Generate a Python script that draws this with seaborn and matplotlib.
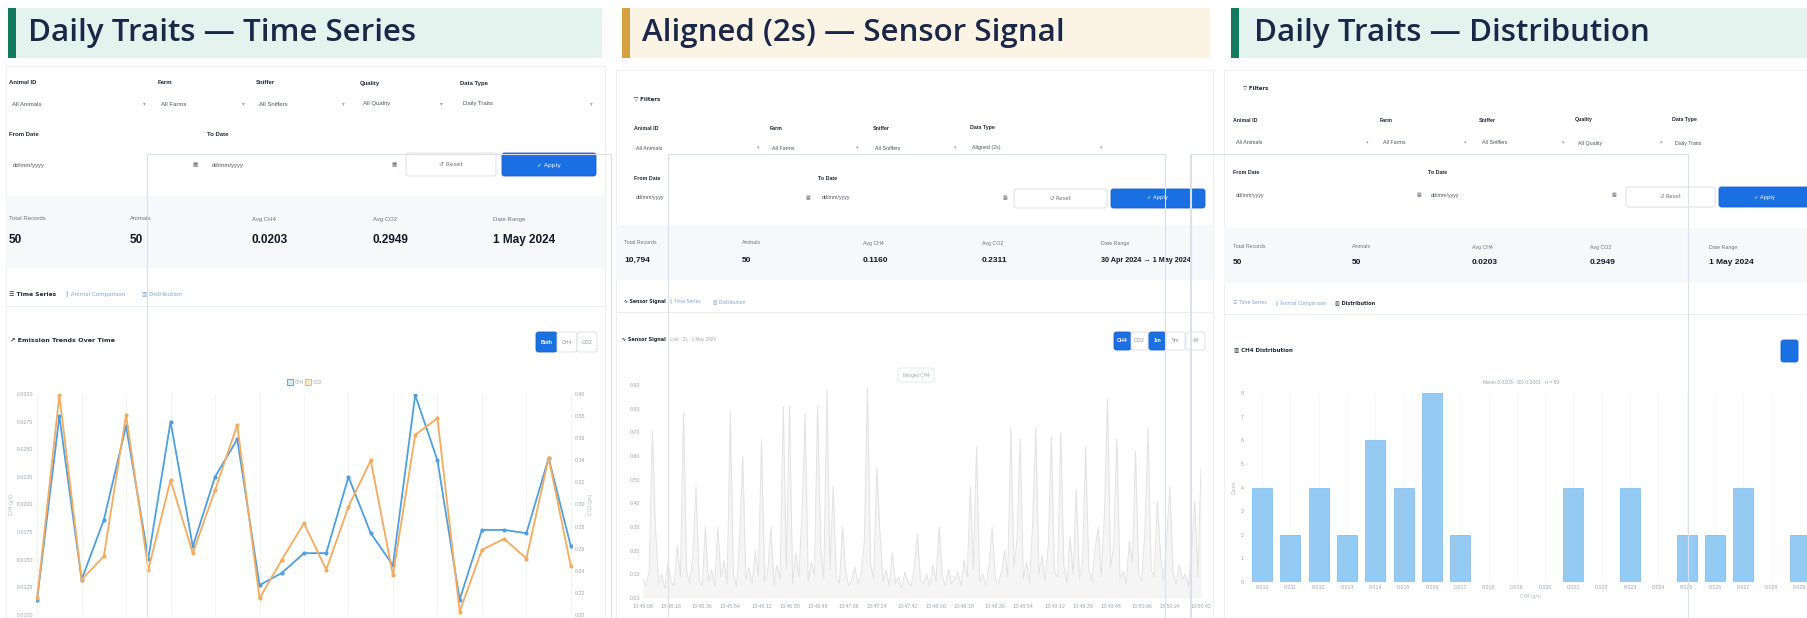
import matplotlib
matplotlib.use("Agg")
import matplotlib.pyplot as plt
from matplotlib.patches import Rectangle, FancyBboxPatch
import seaborn as sns
import pandas as pd

# ------------------------------------------------------------------ data
panel_titles = ["Daily Traits \u2014 Time Series",
                "Aligned (2s) \u2014 Sensor Signal",
                "Daily Traits \u2014 Distribution"]

# Panel 1: emission trends (CH4 left axis, CO2 right axis)
ts_index = list(range(1, 26))
ch4_values = [0.0114, 0.0280, 0.0132, 0.0186, 0.0271, 0.0151, 0.0275, 0.0162,
              0.0225, 0.0259, 0.0127, 0.0138, 0.0156, 0.0156, 0.0225, 0.0174,
              0.0145, 0.0299, 0.0240, 0.0114, 0.0177, 0.0177, 0.0174, 0.0242,
              0.0162]
co2_values = [0.215, 0.399, 0.232, 0.253, 0.381, 0.241, 0.322, 0.256,
              0.313, 0.372, 0.215, 0.250, 0.283, 0.241, 0.298, 0.340,
              0.236, 0.363, 0.378, 0.203, 0.259, 0.269, 0.251, 0.342,
              0.244]
ch4_ticks = [0.0100, 0.0125, 0.0150, 0.0175, 0.0200, 0.0225, 0.0250, 0.0275, 0.0300]
co2_ticks = [0.20, 0.22, 0.24, 0.26, 0.28, 0.30, 0.32, 0.34, 0.36, 0.38, 0.40]

# Panel 2: aligned 2 s sensor signal
sensor_values = [
    0.08, 0.05, 0.12, 0.71, 0.30, 0.06, 0.10, 0.04, 0.15, 0.07, 0.05, 0.22, 0.09, 0.78, 0.11, 0.06, 0.18, 0.47, 0.08, 0.05,
    0.30, 0.07, 0.12, 0.05, 0.30, 0.09, 0.16, 0.06, 0.79, 0.10, 0.05, 0.25, 0.60, 0.08, 0.13, 0.06, 0.20, 0.09, 0.67, 0.07,
    0.11, 0.30, 0.05, 0.14, 0.08, 0.81, 0.12, 0.81, 0.06, 0.19, 0.09, 0.35, 0.78, 0.07, 0.15, 0.10, 0.81, 0.22, 0.08, 0.88,
    0.12, 0.47, 0.09, 0.06, 0.30, 0.11, 0.05, 0.08, 0.13, 0.06, 0.10, 0.24, 0.89, 0.14, 0.08, 0.55, 0.28, 0.07, 0.12, 0.05,
    0.19, 0.06, 0.09, 0.04, 0.11, 0.07, 0.05, 0.13, 0.27, 0.08, 0.06, 0.10, 0.05, 0.14, 0.07, 0.30, 0.09, 0.05, 0.12, 0.06,
    0.08, 0.11, 0.05, 0.16, 0.09, 0.47, 0.12, 0.64, 0.07, 0.10, 0.05, 0.14, 0.30, 0.08, 0.06, 0.11, 0.20, 0.09, 0.72, 0.13,
    0.25, 0.67, 0.08, 0.15, 0.06, 0.32, 0.72, 0.10, 0.18, 0.07, 0.22, 0.68, 0.11, 0.09, 0.70, 0.14, 0.06, 0.26, 0.10, 0.46,
    0.08, 0.15, 0.64, 0.12, 0.07, 0.20, 0.30, 0.09, 0.35, 0.84, 0.13, 0.22, 0.67, 0.08, 0.11, 0.06, 0.24, 0.15, 0.62, 0.10,
    0.07, 0.28, 0.72, 0.12, 0.09, 0.41, 0.18, 0.07, 0.25, 0.47, 0.11, 0.06, 0.14, 0.08, 0.10, 0.05, 0.20, 0.41, 0.09, 0.55]
sensor_yticks = [0.0, 0.1, 0.2, 0.3, 0.4, 0.5, 0.6, 0.7, 0.8, 0.9]
sensor_time_labels = ["13:45:00", "13:45:18", "13:45:36", "13:45:54", "13:46:12",
                      "13:46:30", "13:46:48", "13:47:06", "13:47:24", "13:47:42",
                      "13:48:00", "13:48:18", "13:48:36", "13:48:54", "13:49:12",
                      "13:49:30", "13:49:48", "13:50:06", "13:50:24", "13:50:42"]
sensor_tick_pos = [0, 9, 19, 28, 38, 47, 56, 66, 75, 85, 94, 103, 113, 122, 132, 141, 150, 160, 169, 179]

# Panel 3: CH4 distribution histogram
dist_bins = ["0.010", "0.011", "0.012", "0.013", "0.014", "0.015", "0.016", "0.017",
             "0.018", "0.019", "0.020", "0.021", "0.022", "0.023", "0.024", "0.025",
             "0.026", "0.027", "0.028", "0.029"]
dist_counts = [4, 2, 4, 2, 6, 4, 8, 2, 0, 0, 0, 4, 0, 4, 0, 2, 2, 4, 0, 2]
dist_yticks = [0, 1, 2, 3, 4, 5, 6, 7, 8]

filter_labels_5 = ["Animal ID", "Farm", "Sniffer", "Quality", "Data Type"]
filter_values_daily = ["All Animals", "All Farms", "All Sniffers", "All Quality", "Daily Traits"]
filter_labels_4 = ["Animal ID", "Farm", "Sniffer", "Data Type"]
filter_values_aligned = ["All Animals", "All Farms", "All Sniffers", "Aligned (2s)"]
stat_labels = ["Total Records", "Animals", "Avg CH4", "Avg CO2", "Date Range"]
stat_values_daily = ["50", "50", "0.0203", "0.2949", "1 May 2024"]
stat_values_aligned = ["10,794", "50", "0.1160", "0.2311", "30 Apr 2024 \u2192 1 May 2024"]

# ------------------------------------------------------------------ style
sns.set_theme(style="white")
plt.rcParams["font.family"] = ["Liberation Sans Narrow", "Liberation Sans", "DejaVu Sans"]
plt.rcParams["axes.unicode_minus"] = False

W, H = 1807, 618
fig = plt.figure(figsize=(W / 100, H / 100), dpi=100)
fig.patch.set_facecolor("white")

def axpos(l, t, r, b):
    return [l / W, 1 - b / H, (r - l) / W, (b - t) / H]

bg = fig.add_axes([0, 0, 1, 1], zorder=0)
bg.set_xlim(0, W)
bg.set_ylim(H, 0)
bg.axis("off")

NARROW = ["Liberation Sans Narrow", "Liberation Sans", "DejaVu Sans"]
SYM = ["DejaVu Sans"]
LBL = "#6b7280"
DARK = "#1f2937"
BLUE = "#1a6fe3"
TABC = "#7aa6d8"

def txt(x, y, s, size=4.5, color=LBL, weight="normal", ha="left", fam=None, **kw):
    bg.text(x, y, s, fontsize=size, color=color, fontweight=weight, ha=ha,
            va="center", family=fam or NARROW, **kw)

def box(l, t, r, b, fc, ec="none", lw=0.6, rs=2.5, z=1):
    bg.add_patch(FancyBboxPatch((l, t), r - l, b - t,
                                boxstyle=f"round,pad=0,rounding_size={rs}",
                                fc=fc, ec=ec, lw=lw, zorder=z))

def button(l, t, r, b, label, active):
    if active:
        box(l, t, r, b, BLUE, "#1660c8")
        txt((l + r) / 2, (t + b) / 2, label, 3.8, "white", "bold", "center")
    else:
        box(l, t, r, b, "white", "#d8dce3")
        txt((l + r) / 2, (t + b) / 2, label, 3.8, "#8b93a0", "normal", "center")

# ------------------------------------------------------------------ header bands
bands = [(8, 602, "#e5f3ee", "#127a5d", 28),
         (622, 1210, "#fbf4e4", "#d2a33f", 642),
         (1231, 1807, "#e5f3ee", "#127a5d", 1254)]
for (l, r, fc, ac, tx), title in zip(bands, panel_titles):
    bg.add_patch(Rectangle((l, 8), r - l, 50, fc=fc, ec="none", zorder=1))
    bg.add_patch(Rectangle((l, 8), 8, 50, fc=ac, ec="none", zorder=2))
    bg.text(tx, 33, title, fontsize=22.5, color="#1b2748", fontweight="semibold",
            family=["Open Sans", "DejaVu Sans"], va="center", ha="left", zorder=3)

# ------------------------------------------------------------------ screenshot cards
for l, t, r in [(6, 66, 605), (616, 70, 1213), (1224, 70, 1807)]:
    bg.add_patch(Rectangle((l, t), r - l, H - t, fc="white", ec="#eef0f3", lw=0.8, zorder=0.5))

# ---------- Panel 1 UI
xs = [9, 158, 256, 360, 460]
for x, lab, val in zip(xs, filter_labels_5, filter_values_daily):
    txt(x, 83, lab, 4.3, DARK, "bold")
    txt(x + 3, 104, val, 4.3, "#4b5563")
for x in [143, 242, 342, 440, 590]:
    txt(x, 104, "\u25be", 4, "#9ca3af", fam=SYM)
txt(9, 134, "From Date", 4.3, DARK, "bold")
txt(207, 134, "To Date", 4.3, DARK, "bold")
txt(13, 165, "dd/mm/yyyy", 4.3, "#4b5563")
txt(212, 165, "dd/mm/yyyy", 4.3, "#4b5563")
for x in [193, 392]:
    txt(x, 165, "\u25a6", 4, "#6b7280", fam=SYM)
box(406, 153, 496, 176, "white", "#d6dae1")
txt(451, 165, "\u21ba Reset", 4.3, "#6b7280", ha="center", fam=SYM)
box(502, 153, 596, 176, BLUE, "#1660c8")
txt(549, 165, "\u2713 Apply", 4.3, "white", ha="center", fam=SYM)
bg.add_patch(Rectangle((6, 196), 599, 72, fc="#f7f8fa", ec="none", zorder=0.6))
for x, lab, val in zip([9, 130, 252, 373, 493], stat_labels, stat_values_daily):
    txt(x, 219, lab, 4.3, "#6b7280")
    txt(x, 240, val, 8.5, "#111827", "bold")
txt(9, 294, "\u2630 Time Series", 4.3, DARK, "bold", fam=SYM)
txt(66, 294, "\u2225 Animal Comparison", 4.1, TABC, fam=SYM)
txt(142, 294, "\u25a5 Distribution", 4.1, TABC, fam=SYM)
bg.plot([6, 605], [306, 306], color="#eceef2", lw=0.8, zorder=0.7)
txt(10, 341, "\u2197 Emission Trends Over Time", 4.6, DARK, "bold", fam=SYM)
button(536, 332, 557, 352, "Both", True)
button(557, 332, 577, 352, "CH4", False)
button(577, 332, 597, 352, "CO2", False)

# ---------- Panel 2 UI
txt(634, 99, "\u25bd Filters", 4.0, DARK, "bold", fam=SYM)
for x, lab, val in zip([634, 770, 873, 970], filter_labels_4, filter_values_aligned):
    txt(x, 128, lab, 3.8, DARK, "bold")
    txt(x + 2, 148, val, 3.8, "#4b5563")
for x in [757, 856, 954, 1100]:
    txt(x, 148, "\u25be", 3.5, "#9ca3af", fam=SYM)
txt(634, 178, "From Date", 3.8, DARK, "bold")
txt(818, 178, "To Date", 3.8, DARK, "bold")
txt(636, 198, "dd/mm/yyyy", 3.8, "#4b5563")
txt(822, 198, "dd/mm/yyyy", 3.8, "#4b5563")
for x in [806, 1003]:
    txt(x, 198, "\u25a6", 3.5, "#6b7280", fam=SYM)
box(1014, 189, 1107, 208, "white", "#d6dae1")
txt(1060, 198, "\u21ba Reset", 3.8, "#6b7280", ha="center", fam=SYM)
box(1111, 189, 1205, 208, BLUE, "#1660c8")
txt(1158, 198, "\u2713 Apply", 3.8, "white", ha="center", fam=SYM)
bg.add_patch(Rectangle((616, 225), 597, 55, fc="#f7f8fa", ec="none", zorder=0.6))
for x, lab, val in zip([624, 742, 863, 982, 1101], stat_labels, stat_values_aligned):
    txt(x, 243, lab, 3.8, "#6b7280")
    txt(x, 260, val, 6.0 if x < 1100 else 5.2, "#111827", "bold")
txt(624, 302, "\u223f Sensor Signal", 3.3, DARK, "bold", fam=SYM)
txt(670, 302, "\u2225 Time Series", 3.3, TABC, fam=SYM)
txt(713, 302, "\u25a5 Distribution", 3.3, TABC, fam=SYM)
bg.plot([616, 1213], [312, 312], color="#eceef2", lw=0.8, zorder=0.7)
txt(622, 340, "\u223f Sensor Signal", 3.5, DARK, "bold", fam=SYM)
txt(670, 340, "Live \u00b7 2s \u00b7 1 May 2024", 3.3, "#9ca3af")
button(1114, 332, 1131, 350, "CH4", True)
button(1131, 332, 1148, 350, "CO2", False)
button(1149, 332, 1166, 350, "1m", True)
button(1166, 332, 1185, 350, "5m", False)
button(1186, 332, 1205, 350, "All", False)
box(898, 368, 934, 382, "white", "#e2e5ea", rs=3)
txt(916, 375, "Merged CH4", 3.3, "#9ca3af", ha="center")

# ---------- Panel 3 UI
txt(1243, 88, "\u25bd Filters", 3.8, DARK, "bold", fam=SYM)
for x, lab, val in zip([1233, 1380, 1479, 1575, 1672], filter_labels_5, filter_values_daily):
    txt(x, 120, lab, 3.8, DARK, "bold")
    txt(x + 3, 143, val, 3.8, "#4b5563")
for x in [1366, 1464, 1562, 1660]:
    txt(x, 143, "\u25be", 3.5, "#9ca3af", fam=SYM)
txt(1233, 173, "From Date", 3.8, DARK, "bold")
txt(1428, 173, "To Date", 3.8, DARK, "bold")
txt(1236, 195, "dd/mm/yyyy", 3.8, "#4b5563")
txt(1431, 195, "dd/mm/yyyy", 3.8, "#4b5563")
for x in [1417, 1612]:
    txt(x, 195, "\u25a6", 3.5, "#6b7280", fam=SYM)
box(1626, 187, 1715, 207, "white", "#d6dae1")
txt(1670, 197, "\u21ba Reset", 3.8, "#6b7280", ha="center", fam=SYM)
box(1719, 187, 1830, 207, BLUE, "#1660c8")
txt(1765, 197, "\u2713 Apply", 3.8, "white", ha="center", fam=SYM)
bg.add_patch(Rectangle((1224, 228), 583, 55, fc="#f7f8fa", ec="none", zorder=0.6))
for x, lab, val in zip([1233, 1352, 1472, 1590, 1709], stat_labels, stat_values_daily):
    txt(x, 247, lab, 3.8, "#6b7280")
    txt(x, 263, val, 6.0, "#111827", "bold")
txt(1233, 303, "\u2630 Time Series", 3.4, TABC, fam=SYM)
txt(1276, 303, "\u2225 Animal Comparison", 3.4, TABC, fam=SYM)
txt(1335, 303, "\u25a5 Distribution", 3.6, DARK, "bold", fam=SYM)
bg.plot([1224, 1807], [314, 314], color="#eceef2", lw=0.8, zorder=0.7)
txt(1234, 350, "\u25a5 CH4 Distribution", 4.0, DARK, "bold", fam=SYM)
txt(1521, 383, "Mean 0.0203 \u00b7 SD 0.0061 \u00b7 n = 50", 3.6, "#9ca3af", ha="center")
button(1781, 340, 1798, 362, "", True)

# ------------------------------------------------------------------ chart 1
tick_kw = dict(labelsize=3.8, colors="#9ca3af", length=0, pad=2)
df1 = pd.DataFrame({"idx": ts_index, "CH4": ch4_values, "CO2": co2_values})
ax1 = fig.add_axes(axpos(36, 394, 572, 615), zorder=2)
ax1.set_facecolor("none")
sns.lineplot(data=df1, x="idx", y="CH4", ax=ax1, color="#4f9fdf", lw=1.3,
             marker="o", markersize=3, markeredgewidth=0)
ax1.set_ylim(0.0100, 0.0300)
ax1.set_yticks(ch4_ticks)
ax1.set_yticklabels([f"{v:.4f}" for v in ch4_ticks])
ax1.set_xlim(0.95, 25.05)
ax1.set_xticks(ts_index[::2])
ax1.set_xticklabels([])
ax1.grid(axis="x", color="#f0f1f3", lw=0.6)
ax1.tick_params(axis="both", **tick_kw)
ax1.set_xlabel("")
ax1.set_ylabel("CH4 (g/s)", fontsize=3.5, color="#b0b5bd", labelpad=2)
for s in ax1.spines.values():
    s.set_visible(False)
ax1b = ax1.twinx()
sns.lineplot(data=df1, x="idx", y="CO2", ax=ax1b, color="#f5ab5e", lw=1.3,
             marker="o", markersize=3, markeredgewidth=0)
ax1b.set_ylim(0.20, 0.40)
ax1b.set_yticks(co2_ticks)
ax1b.set_yticklabels([f"{v:.2f}" for v in co2_ticks])
ax1b.tick_params(axis="y", **tick_kw)
ax1b.set_ylabel("CO2 (g/s)", fontsize=3.5, color="#b0b5bd", labelpad=2)
for s in ax1b.spines.values():
    s.set_visible(False)
# legend (Chart.js style)
bg.add_patch(Rectangle((287, 379), 6, 6, fc="#d6e9f8", ec="#4f9fdf", lw=0.6, zorder=3))
txt(295, 382, "CH4", 3.3, "#9ca3af")
bg.add_patch(Rectangle((305, 379), 6, 6, fc="#fde6cc", ec="#f5ab5e", lw=0.6, zorder=3))
txt(313, 382, "CO2", 3.3, "#9ca3af")

# ------------------------------------------------------------------ chart 2
df2 = pd.DataFrame({"t": list(range(len(sensor_values))), "v": sensor_values})
ax2 = fig.add_axes(axpos(643, 385, 1201, 598), zorder=2)
ax2.set_facecolor("none")
ax2.fill_between(df2["t"], df2["v"], color="#f5f5f5", lw=0)
sns.lineplot(data=df2, x="t", y="v", ax=ax2, color="#e2e2e2", lw=0.7)
ax2.set_ylim(0, 0.9)
ax2.set_yticks(sensor_yticks)
ax2.set_yticklabels([f"{v:.2f}" for v in sensor_yticks])
ax2.set_xlim(0, len(sensor_values) - 1)
ax2.set_xticks(sensor_tick_pos)
ax2.set_xticklabels(sensor_time_labels)
ax2.tick_params(axis="both", **tick_kw)
ax2.tick_params(axis="x", pad=4)
ax2.set_xlabel("")
ax2.set_ylabel("")
for s in ax2.spines.values():
    s.set_visible(False)

# ------------------------------------------------------------------ chart 3
df3 = pd.DataFrame({"bin": dist_bins, "count": dist_counts})
ax3 = fig.add_axes(axpos(1248, 393, 1814, 582), zorder=2)
ax3.set_facecolor("none")
sns.barplot(data=df3, x="bin", y="count", ax=ax3, color="#95cbf2",
            saturation=1, width=0.71, edgecolor="#86c1ee", linewidth=0.6)
ax3.set_ylim(0, 8)
ax3.set_yticks(dist_yticks)
ax3.set_xlim(-0.5, len(dist_bins) - 0.5)
ax3.tick_params(axis="both", **tick_kw)
ax3.tick_params(axis="y", pad=3)
ax3.set_xlabel("CH4 (g/s)", fontsize=3.5, color="#b0b5bd", labelpad=3)
ax3.set_ylabel("Count", fontsize=3.5, color="#b0b5bd", labelpad=3)
ax3.grid(axis="x", color="#f3f4f6", lw=0.5)
for s in ax3.spines.values():
    s.set_visible(False)

# ------------------------------------------------------------------ faint overlay frames
ov = fig.add_axes([0, 0, 1, 1], zorder=5)
ov.set_xlim(0, W)
ov.set_ylim(H, 0)
ov.axis("off")
ov.patch.set_alpha(0)
for l, r in [(147, 611), (668, 1165), (1190, 1688)]:
    ov.add_patch(Rectangle((l, 154), r - l, H - 154 + 2, fc="none", ec="#dbe1ea", lw=0.8))
ov.plot([1191, 1191], [154, H], color="#dbe1ea", lw=0.8)

fig.savefig("out.png", dpi=100, facecolor="white")
